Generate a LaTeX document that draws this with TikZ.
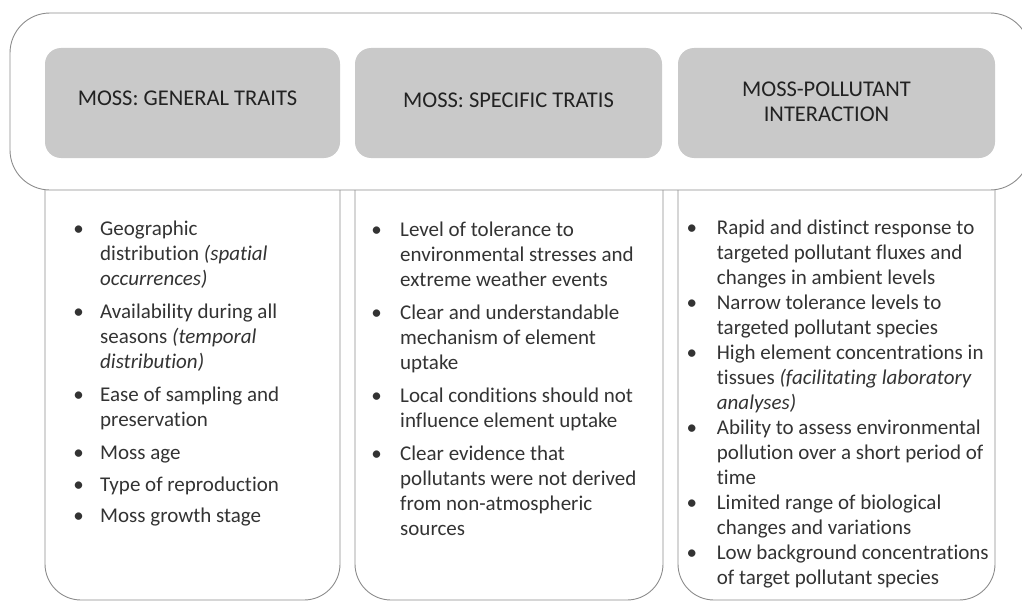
\documentclass[tikz,border=0pt]{standalone}
\usepackage{fontspec}
\setmainfont[Ligatures=NoCommon]{Carlito}
\definecolor{edge}{HTML}{8C8C8C}
\definecolor{headfill}{HTML}{C9C9C9}
\definecolor{headink}{HTML}{222222}
\definecolor{bodyink}{HTML}{333333}
% bullet column: fixed width, bullet centred at the given offset
\newcommand\bul[1]{\hspace*{#1}\makebox[0pt]{\textbullet}}
\begin{document}
\begin{tikzpicture}[x=1pt,y=-1pt,
  frame/.style={draw=edge, line width=0.9pt},
  headbox/.style={fill=headfill, draw=none, rounded corners=16pt, minimum height=110pt, inner sep=0pt},
  headtxt/.style={text=headink, font=\fontsize{22.5}{25}\selectfont, align=center, inner sep=0pt},
  bodytxt/.style={text=bodyink, font=\fontsize{21}{25}\selectfont, inner sep=0pt, anchor=north west}
]
\useasboundingbox (0,0) rectangle (1022,602);
\clip (0,0) rectangle (1022,602);

% outer frame behind the headings
\draw[frame, rounded corners=40pt] (10,13) rectangle (1030,190);

% lower panels, open at the top, rounded at the bottom
\draw[frame] (45,190) [rounded corners=36pt] -- (45,600) -- (340,600) [sharp corners] -- (340,190);
\draw[frame] (355,190) [rounded corners=36pt] -- (355,600) -- (663,600) [sharp corners] -- (663,190);
\draw[frame] (678,190) [rounded corners=36pt] -- (678,600) -- (995,600) [sharp corners] -- (995,190);

% headings
\node[headbox, minimum width=295pt] (h1) at (192.5,103) {};
\node[headbox, minimum width=307pt] (h2) at (508.5,103) {};
\node[headbox, minimum width=317pt] (h3) at (836.5,103) {};
\node[headtxt] (t1) at ([xshift=-5pt,yshift=5pt]h1.center) {MOSS: GENERAL TRAITS};
\node[headtxt] (t2) at ([yshift=3pt]h2.center) {MOSS: SPECIFIC TRATIS};
\node[headtxt] (t3) at ([xshift=-10pt,yshift=1pt]h3.center) {MOSS-POLLUTANT\\INTERACTION};

% bullet lists
\node[bodytxt] (c1) at (70,217.5) {%
\begin{tabular}{@{}p{30pt}@{}l@{}}
\bul{8.3pt} & Geographic\\
 & distribution \textit{(spatial}\\
 & \textit{occurrences)}\\[8pt]
\bul{8.3pt} & Availability during all\\
 & seasons \textit{(temporal}\\
 & \textit{distribution)}\\[8pt]
\bul{8.3pt} & Ease of sampling and\\
 & preservation\\[8pt]
\bul{8.3pt} & Moss age\\[7pt]
\bul{8.3pt} & Type of reproduction\\[6pt]
\bul{8.3pt} & Moss growth stage
\end{tabular}};

\node[bodytxt] (c2) at (370,218.5) {%
\begin{tabular}{@{}p{30pt}@{}l@{}}
\bul{6.3pt} & Level of tolerance to\\
 & environmental stresses and\\
 & extreme weather events\\[8pt]
\bul{6.3pt} & Clear and understandable\\
 & mechanism of element\\
 & uptake\\[8pt]
\bul{6.3pt} & Local conditions should not\\
 & influence element uptake\\[8pt]
\bul{6.3pt} & Clear evidence that\\
 & pollutants were not derived\\
 & from non-atmospheric\\
 & sources
\end{tabular}};

\node[bodytxt] (c3) at (686.7,216.5) {%
\begin{tabular}{@{}p{30pt}@{}l@{}}
\bul{5pt} & Rapid and distinct response to\\
 & targeted pollutant fluxes and\\
 & changes in ambient levels\\
\bul{5pt} & Narrow tolerance levels to\\
 & targeted pollutant species\\
\bul{5pt} & High element concentrations in\\
 & tissues \textit{(facilitating laboratory}\\
 & \textit{analyses)}\\
\bul{5pt} & Ability to assess environmental\\
 & pollution over a short period of\\
 & time\\
\bul{5pt} & Limited range of biological\\
 & changes and variations\\
\bul{5pt} & Low background concentrations\\
 & of target pollutant species
\end{tabular}};
\end{tikzpicture}
\end{document}
